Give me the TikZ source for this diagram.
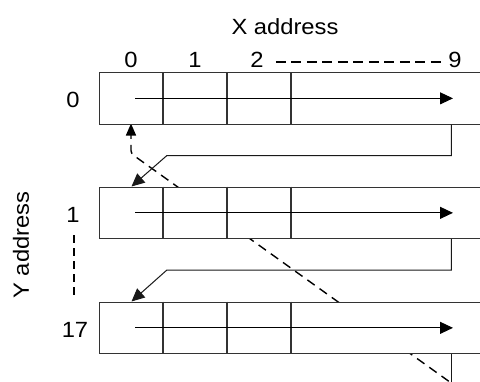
\documentclass[tikz,border=0pt]{standalone}
\usepackage{fontspec}
\setmainfont[FakeStretch=1.08]{Liberation Sans}
\usetikzlibrary{arrows.meta}
\tikzset{
  cellbox/.style={draw=black!80, line width=1.2pt, fill=white, rectangle, inner sep=0pt, minimum width=400pt, minimum height=51.5pt, anchor=north west},
  divline/.style={draw=black!80, line width=1.2pt},
  flow/.style={draw=black, line width=1pt, -{Triangle[length=13pt,width=12pt]}},
  link/.style={draw=black!90, line width=1pt},
  dashlink/.style={draw=black, line width=1.4pt, dash pattern=on 9pt off 6pt},
  lbl/.style={font=\fontsize{22}{26}\selectfont, inner sep=0pt}
}
\begin{document}
\begin{tikzpicture}[x=1pt,y=-1pt]
\useasboundingbox (0,0) rectangle (480,381);
\clip (0,0) rectangle (480,381);
% dashed return line (behind boxes)
\coordinate (rtop) at (131,123.5);
\coordinate (rbend) at (131,153.5);
\coordinate (rend) at (461,390);
\draw[dashlink, -{Triangle[length=12pt,width=10pt]}, rounded corners=3pt] (rend) -- (rbend) -- (rtop);
% rows
\node[cellbox] (r0) at (99,72) {};
\node[cellbox] (r1) at (99,186.5) {};
\node[cellbox] (r17) at (99,301.5) {};
\foreach \r in {r0,r1,r17}{
  \foreach \dx in {64,128,192}{
    \draw[divline] ([xshift=\dx pt]\r.north west) -- ([xshift=\dx pt]\r.south west);
  }
  \coordinate (\r a) at ([xshift=36pt]\r.west);
  \coordinate (\r b) at ([xshift=354pt]\r.west);
  \draw[flow] (\r a) -- (\r b);
}
% row to row connectors
\coordinate (c0a) at ([xshift=352.3pt]r0.south west);
\coordinate (c0b) at ([xshift=352.3pt,yshift=-31pt]r0.south west);
\coordinate (c0c) at ([xshift=67.7pt,yshift=-31pt]r0.south west);
\coordinate (c0d) at ([xshift=32.5pt]r1.north west);
\draw[link, -{Triangle[length=13pt,width=12pt]}] (c0a) -- (c0b) -- (c0c) -- (c0d);
\coordinate (c1a) at ([xshift=352.3pt]r1.south west);
\coordinate (c1b) at ([xshift=352.3pt,yshift=-31pt]r1.south west);
\coordinate (c1c) at ([xshift=67.7pt,yshift=-31pt]r1.south west);
\coordinate (c1d) at ([xshift=32.5pt]r17.north west);
\draw[link, -{Triangle[length=13pt,width=12pt]}] (c1a) -- (c1b) -- (c1c) -- (c1d);
\coordinate (c17a) at ([xshift=352.3pt]r17.south west);
\coordinate (c17b) at (451.3,390);
\draw[link] (c17a) -- (c17b);
% labels
\node[lbl] (xaddr) at (285,27) {X address};
\node[lbl] (x0) at (131,60) {0};
\node[lbl] (x1) at (195,60) {1};
\node[lbl] (x2) at (257,60) {2};
\node[lbl] (x9) at (455,60) {9};
\draw[dashlink, line width=1.2pt, dash pattern=on 10pt off 5.5pt] ([xshift=12pt,yshift=-2pt]x2.east) -- ([xshift=-7pt,yshift=-2pt]x9.west);
\node[lbl] (y0) at (73,100) {0};
\node[lbl] (y1) at (73,215) {1};
\node[lbl] (y17) at (75,330) {17};
\node[lbl, rotate=90] (yaddr) at (21,245) {Y address};
\coordinate (yd1) at (74,235);
\coordinate (yd2) at (74,298);
\draw[dashlink, line width=1.2pt, dash pattern=on 8pt off 5pt] (yd1) -- (yd2);
\end{tikzpicture}
\end{document}
